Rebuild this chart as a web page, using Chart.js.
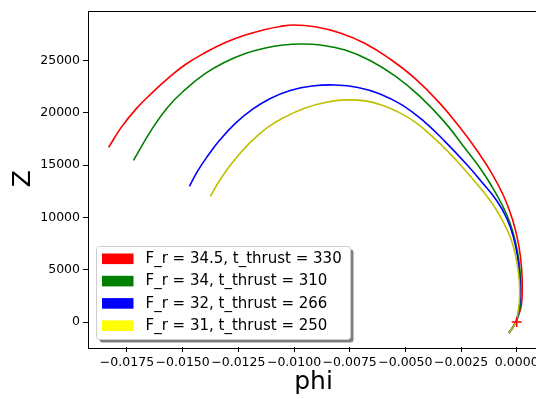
<!DOCTYPE html>
<html><head><meta charset="utf-8">
<script src="https://cdn.jsdelivr.net/npm/chart.js@4/dist/chart.umd.min.js"></script>
<style>html,body{margin:0;padding:0;overflow:hidden;background:#fff}#wrap{width:560px;height:399px;position:relative}</style>
</head><body><div id="wrap"><canvas id="c" width="560" height="399"></canvas></div>
<script>
// ---- data ----
const redPhi = [-0.018323,-0.017741,-0.017069,-0.016352,-0.015635,-0.014874,-0.013978,-0.013082,-0.012186,-0.01129,-0.010618,-0.010035,-0.00905,-0.00793,-0.00681,-0.00569,-0.00457,-0.00345,-0.002554,-0.001792,-0.00112,-0.000582,-0.000179,0.0000896,0.000224,0.000246,0.000202,0.0000672,-0.0000448,-0.000224,-0.000358];
const redZ   = [16695,18651,20416,21942,23325,24613,25758,26712,27428,27952,28238,28382,28210,27618,26617,25138,23278,20893,18603,16409,14215,12020,9731,7346,4961,3053,1526,572,0,-668,-1049];

const greenPhi = [-0.017203,-0.016442,-0.01568,-0.014874,-0.013978,-0.013082,-0.012186,-0.01129,-0.010483,-0.009722,-0.008826,-0.007706,-0.006586,-0.005466,-0.004346,-0.003226,-0.002253,-0.001658,-0.00112,-0.000672,-0.000314,-0.0000448,0.000112,0.000179,0.000179,0.000112,-0.0000448,-0.000224,-0.000358];
const greenZ   = [15455,18221,20511,22228,23755,24852,25663,26187,26474,26569,26474,25997,24995,23516,21560,19080,16409,14739,12974,11257,9540,7537,5629,3721,2099,954,0,-668,-1049];

const bluePhi = [-0.014694,-0.014336,-0.013888,-0.013306,-0.012634,-0.011872,-0.011066,-0.01017,-0.009184,-0.008154,-0.007123,-0.006138,-0.005152,-0.004166,-0.003226,-0.002253,-0.001523,-0.000896,-0.000448,-0.000134,0.0000448,0.000134,0.000157,0.0000672,-0.0000448,-0.000224,-0.000358];
const blueZ   = [12974,14405,15836,17458,18985,20320,21370,22133,22562,22658,22419,21799,20749,19175,17267,15073,13261,11591,9922,8014,6106,4198,2290,859,0,-668,-1049];

const yellowPhi = [-0.013754,-0.013306,-0.012723,-0.012051,-0.011245,-0.010394,-0.009498,-0.008602,-0.007706,-0.00681,-0.006003,-0.005242,-0.00448,-0.00375,-0.003136,-0.002554,-0.001702,-0.001075,-0.000627,-0.000269,-0.0000448,0.0000896,0.000134,0.0000672,-0.0000448,-0.000224,-0.000358];
const yellowZ   = [12020,13642,15359,16981,18508,19605,20463,20988,21227,21131,20702,19986,18985,17649,16409,15073,12974,11257,9635,8014,6296,4484,2576,1049,0,-668,-1049];

const markerPhi = [0];
const markerZ = [0];

const legendLabels = ['F_r = 34.5, t_thrust = 330','F_r = 34, t_thrust = 310','F_r = 32, t_thrust = 266','F_r = 31, t_thrust = 250'];
const legendColors = ['#ff0000','#008000','#0000ff','#ffff00'];
const lineColors = ['#ff0000','#008000','#0000ff','#bfbf00'];

const xTicks = [-0.0175,-0.015,-0.0125,-0.01,-0.0075,-0.005,-0.0025,0];
const yTicks = [0,5000,10000,15000,20000,25000];
const xTitle = 'phi';
const yTitle = 'Z';

// ---- build ----
const pts = (xs, ys) => xs.map((x,i)=>({x:x, y:ys[i]}));
const series = [[redPhi,redZ],[greenPhi,greenZ],[bluePhi,blueZ],[yellowPhi,yellowZ]];
const datasets = series.map((s,i)=>({
  data: pts(s[0], s[1]), showLine:true, borderColor: lineColors[i], backgroundColor: lineColors[i],
  borderWidth: 1.6, pointRadius: 0, tension: 0.45, order: 4 - i
}));
datasets.push({data: pts(markerPhi, markerZ), showLine:false, pointStyle:'cross', pointRadius:5,
  borderColor:'#ff0000', backgroundColor:'#ff0000', pointBorderWidth:1.5, order:0});

const fmtX = v => { const s = Math.abs(v).toFixed(4); return (v < -1e-12 ? '\u2212' : '') + s; };

const framePlugin = {
  id:'frame',
  afterDraw(chart){
    const {ctx, chartArea:a} = chart;
    ctx.save();
    ctx.strokeStyle = '#000'; ctx.lineWidth = 1;
    ctx.strokeRect(Math.round(a.left)+0.5, Math.round(a.top)+0.5, Math.round(a.right - a.left), Math.round(a.bottom - a.top));
    // legend
    const bx = a.left + 8.5, by = a.top + 236, bw = 254, bh = 93;
    ctx.fillStyle = 'rgba(0,0,0,0.5)';
    ctx.beginPath(); ctx.roundRect(bx+3, by+3, bw, bh, 3); ctx.fill();
    ctx.fillStyle = '#ffffff';
    ctx.beginPath(); ctx.roundRect(bx, by, bw, bh, 3); ctx.fill();
    ctx.strokeStyle = '#cccccc'; ctx.stroke();
    ctx.font = '15px "DejaVu Sans"';
    ctx.textBaseline = 'middle'; ctx.textAlign = 'left';
    legendLabels.forEach((t,i)=>{
      const cy = by + 12.3 + i*22.3;
      ctx.fillStyle = legendColors[i];
      ctx.fillRect(bx + 5.5, cy - 5.3, 31.5, 10.6);
      ctx.fillStyle = '#000';
      ctx.fillText(t, bx + 49, cy + 0.5);
    });
    ctx.restore();
  }
};

new Chart(document.getElementById('c'), {
  type:'scatter',
  data:{datasets},
  options:{
    responsive:false, animation:false,
    layout:{padding:{top:10, right:21, bottom:0, left:0}},
    plugins:{legend:{display:false}, tooltip:{enabled:false}},
    scales:{
      x:{type:'linear', min:-0.01925, max:0.001,
        afterBuildTicks: s => { s.ticks = xTicks.map(v=>({value:v})); },
        afterFit: s => { s.height = 52; },
        grid:{drawOnChartArea:false, drawTicks:true, tickLength:5, color:'#000', lineWidth:1},
        border:{display:false},
        ticks:{autoSkip:false, maxRotation:0, padding:3, color:'#000', font:{family:'DejaVu Sans', size:12.5}, callback: v => fmtX(v)},
        title:{display:true, text:xTitle, color:'#000', font:{family:'DejaVu Sans', size:25}, padding:{top:0,bottom:2}}
      },
      y:{type:'linear', min:-2385, max:29771,
        afterBuildTicks: s => { s.ticks = yTicks.map(v=>({value:v})); },
        afterFit: s => { s.width = 88; },
        grid:{drawOnChartArea:false, drawTicks:true, tickLength:5, color:'#000', lineWidth:1},
        border:{display:false},
        ticks:{autoSkip:false, padding:3, color:'#000', font:{family:'DejaVu Sans', size:12.5}, callback: v => String(v)},
        title:{display:true, text:yTitle, color:'#000', font:{family:'DejaVu Sans', size:25}, padding:{top:8,bottom:0}}
      }
    }
  },
  plugins:[framePlugin]
});
</script></body></html>
